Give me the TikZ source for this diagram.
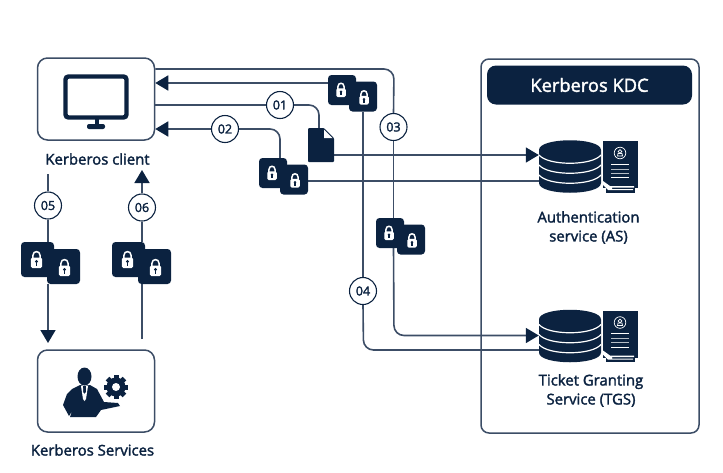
\documentclass[tikz,border=0pt]{standalone}
\usepackage{fontspec}
\setmainfont{Open Sans}
\newfontfamily\capfont{Open Sans}[FakeBold=2]
\usetikzlibrary{arrows.meta,backgrounds,calc}
\definecolor{navy}{HTML}{0B2240}
\definecolor{wire}{HTML}{3C4D66}
\tikzset{
  x=1pt,y=-1pt,
  boxed/.style={draw=wire,line width=1.5pt,rounded corners=10pt,inner sep=0pt},
  lockbox/.style={fill=navy,rounded corners=3.5pt,inner sep=0pt},
  tag/.style={circle,draw=navy,line width=1.1pt,fill=white,minimum size=27pt,inner sep=0pt,text=navy,font=\capfont\fontsize{12.5}{14}\selectfont},
  caption/.style={text=navy,align=center,font=\capfont\fontsize{14.9}{19}\selectfont,inner sep=0pt},
  wireline/.style={draw=wire,line width=1.6pt,rounded corners=10pt},
  headline/.style={wireline,-{Triangle[width=15pt,length=13pt,color=navy]}},
  hit/.style={inner sep=0pt}
}
\newcommand{\padlock}[3]{% centre, size
  \begin{scope}[shift={(#1,#2)},scale=#3]
    \draw[white,line width=1.5pt] (-3.6,-1) -- (-3.6,-4) .. controls (-3.6,-9.2) and (3.6,-9.2) .. (3.6,-4) -- (3.6,-1);
    \fill[white,rounded corners=1.5pt] (-5.6,-2) rectangle (5.6,8.5);
    \fill[navy] (0,2) circle (1.7);
    \fill[navy] (-.8,2) rectangle (.8,6);
  \end{scope}}
\newcommand{\lockpair}[7]{%
  \node[lockbox,minimum width=#4pt,minimum height=#5pt] (#11) at (#2+#4/2,#3+#5/2) {};
  \node[lockbox,minimum width=#4pt,minimum height=#5pt] (#12) at (#2+#4/2+#6,#3+#5/2+#7) {};
  \pgfmathsetmacro{\lksc}{#4/33}
  \padlock{#2+#4/2-1}{#3+#5/2}{\lksc}
  \padlock{#2+#4/2+#6+1}{#3+#5/2+#7+1}{\lksc}
}
\newcommand{\dbicon}[2]{% name, y offset
  \node[hit,minimum width=62pt,minimum height=52pt] (#1) at (570,166+#2) {};
  \begin{scope}[shift={(0,#2)}]
    \fill[navy] (539,150) .. controls (539,137) and (601,137) .. (601,150) -- (601,183) .. controls (601,196) and (539,196) .. (539,183) -- cycle;
    \foreach \yy in {155,165,175}{
      \draw[white,line width=1.2pt] (539,\yy) .. controls (548,\yy+11) and (592,\yy+11) .. (601,\yy);
    }
    \fill[navy] (603,141) rectangle (638,188);
    \fill[navy] (606,185) rectangle (635,192.5);
    \fill[white] (603,181) -- (610,186) -- (634,186) -- (634,187.5) -- (612,187.5) -- (612,189) -- (633,189) -- (633,190) -- (608,190) -- (602,184) -- cycle;
    \draw[white,line width=.7pt] (620,153) circle (5.8);
    \draw[white,line width=.7pt] (617.5,156) -- (622.5,156) -- (622,153.5) -- (618,153.5) -- cycle;
    \draw[white,line width=.7pt] (620,151.5) circle (1.8);
    \draw[white,line width=1pt] (611,164) -- (629,164);
    \draw[white!70!navy,line width=1pt] (611,169) -- (629,169);
    \draw[white!70!navy,line width=1pt] (611,173) -- (629,173);
    \draw[white,line width=1pt] (611,177.5) -- (629,177.5);
  \end{scope}}
\begin{document}
\begin{tikzpicture}
\useasboundingbox (0,0) rectangle (723,472);

% boxes
\node[boxed,minimum width=117pt,minimum height=82pt] (client) at (96,99) {};
\node[boxed,minimum width=117pt,minimum height=82pt] (services) at (96,391) {};
\node[boxed,rounded corners=8pt,minimum width=218pt,minimum height=374pt] (kdc) at (590,246) {};
\node[fill=navy,rounded corners=9pt,minimum width=205pt,minimum height=39pt,inner sep=0pt,text=white,font=\capfont\fontsize{18.3}{20}\selectfont] (kdchead) at (589.5,85) {Kerberos KDC\hspace{21pt}};

% monitor icon
\draw[navy,line width=4.4pt,rounded corners=3pt] (65.5,76.5) rectangle (126.5,117.5);
\fill[navy] (94.5,119) rectangle (98.5,125);
\fill[navy,rounded corners=2pt] (87,124) rectangle (105,129);

% services icon
\fill[navy] (84.5,376.5) ellipse (7 and 9);
\fill[navy] (63,405) -- (67,394) -- (72,389) -- (80,385) -- (84,386) -- (90,385) -- (97,389) -- (104,402) -- (118,403) -- (120,406) -- (101,410) -- (96,417) -- (70,417) -- (72,411) -- (69,416) -- cycle;
\fill[white] (81,386) -- (83,399) -- (84.5,401) -- (86,399) -- (88,386) -- (86,386) -- (86,392) -- (84.5,394) -- (83,392) -- (83,386) -- cycle;
\fill[navy] (83,386) rectangle (86,388);
\fill[navy] (116,387) circle (9.5);
\foreach \a in {0,45,...,315}{\fill[navy,rotate around={\a:(116,387)}] (113.5,375) rectangle (118.5,381);}
\fill[white] (116,387) circle (4);

% captions
\node[caption] (clientcap) at (97.5,159) {Kerberos client};
\node[caption] (servcap) at (92.5,450) {Kerberos Services};
\node[caption] (ascap) at (588.5,227.5) {Authentication\\service (AS)};
\node[caption] (tgscap) at (591,390.5) {Ticket Granting\\Service (TGS)};

% db icons
\dbicon{as}{0}
\dbicon{tgs}{169.5}

% document
\node[hit,minimum width=26pt,minimum height=34pt] (doc) at (321,145) {};
\fill[navy,rounded corners=1pt] (308,128) -- (324,128) -- (334,138) -- (334,162) -- (308,162) -- cycle;
\fill[white] (324,129.5) -- (332.5,138) -- (324,138) -- cycle;

% locks
\lockpair{lockT}{328}{75}{28}{30}{21}{6.5}
\lockpair{lockR}{259}{158}{28}{30}{21}{6.5}
\lockpair{lockM}{376}{218}{28}{30}{21}{6.5}
\lockpair{lockV}{21}{242}{33}{35}{26}{7}
\lockpair{lockW}{112}{242}{33}{35}{26}{7}

% tags
\node[tag] (t1) at (280,105) {01};
\node[tag] (t2) at (225,129) {02};
\node[tag] (t3) at (393.5,127) {03};
\node[tag] (t4) at (363,291) {04};
\node[tag] (t5) at (48,205.5) {05};
\node[tag] (t6) at (142,207.5) {06};

\begin{scope}[on background layer]
% top route 03
\draw[wireline] (client.east |- 0,69) -- (394,69) -- (t3.north);
\draw[wireline,sharp corners] (t3.south) -- (lockM1.north -| t3);
\draw[headline] (lockM1.south -| t3) -- (394,335.5) -- (tgs.west |- 0,335.5);
% 04 route
\draw[headline] (lockT1.west |- 0,83) -- (client.east |- 0,83);
\draw[wireline,sharp corners] (lockT2.south -| t4) -- (t4.north);
\draw[wireline] (t4.south) -- (363.5,350) -- (tgs.west |- 0,350);
% 01
\draw[wireline,sharp corners] (client.east |- 0,105) -- (t1.west);
\draw[wireline] (t1.east) -- (319,105) -- (319,128);
\draw[headline] (doc.east |- 0,155) -- (as.west |- 0,155);
% 02
\draw[headline] (t2.west) -- (client.east |- 0,129);
\draw[wireline] (t2.east) -- (280,129) -- (lockR1.north -| 280,0);
\draw[wireline] (lockR2.east |- 0,181) -- (as.west |- 0,181);
% 05
\draw[wireline] (48,174) -- (t5.north);
\draw[wireline] (t5.south) -- (lockV1.north -| t5);
\draw[headline] (lockV2.south -| t5) -- (48,343);
% 06
\draw[headline] (t6.north) -- (142,170);
\draw[wireline] (lockW1.north -| t6) -- (t6.south);
\draw[wireline] (142,339) -- (lockW2.south -| t6);
\end{scope}
\end{tikzpicture}
\end{document}
